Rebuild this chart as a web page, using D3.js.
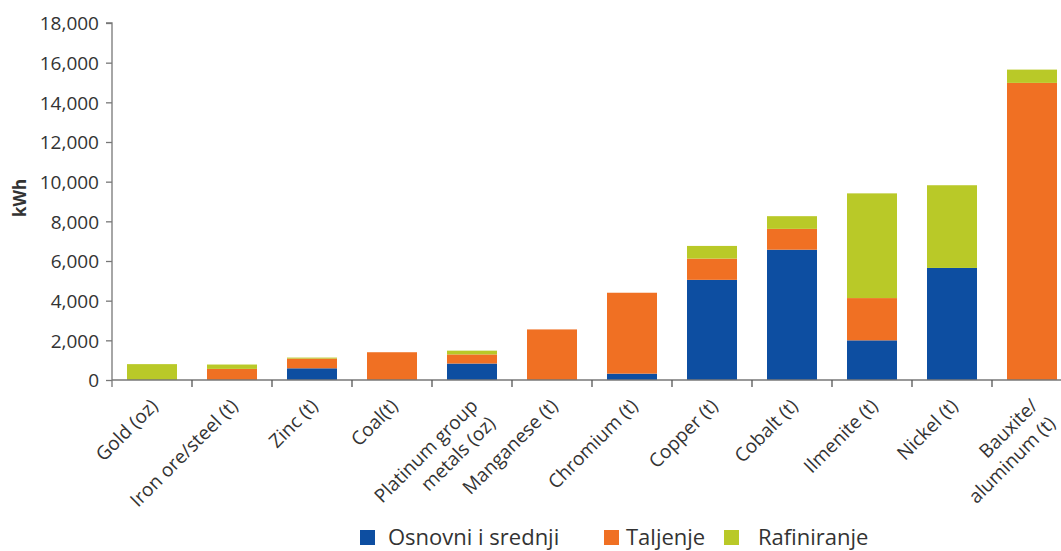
<!DOCTYPE html>
<html>
<head>
<meta charset="utf-8">
<script src="https://cdn.jsdelivr.net/npm/d3@7"></script>
<style>
  html, body { margin: 0; padding: 0; background: #fff; }
  svg { display: block; }
  text { font-family: "Open Sans", "Noto Sans", sans-serif; fill: #333; }
</style>
</head>
<body>
<svg id="chart" width="1061" height="551"></svg>
<script>
const categories = ["Gold (oz)", "Iron ore/steel (t)", "Zinc (t)", "Coal(t)", "Platinum group\nmetals (oz)", "Manganese (t)", "Chromium (t)", "Copper (t)", "Cobalt (t)", "Ilmenite (t)", "Nickel (t)", "Bauxite/\naluminum (t)"];
const osnovni     = [0,   0,   590, 0,    830, 0,    320,  5050, 6570, 2000, 5650, 0];
const taljenje    = [0,   560, 490, 1400, 460, 2550, 4080, 1070, 1050, 2130, 0,    14980];
const rafiniranje = [800, 220, 50,  0,    190, 0,    0,    640,  640,  5280, 4170, 670];
const seriesNames = ["Osnovni i srednji", "Taljenje", "Rafiniranje"];
const seriesColors = ["#0d4ea1", "#f07023", "#b9c928"];
const yTicks = [0, 2000, 4000, 6000, 8000, 10000, 12000, 14000, 16000, 18000];
const yLabel = "kWh";

const svg = d3.select("#chart");
const mLeft = 112, mRight = 1072, mTop = 23, mBottom = 380;

const x = d3.scaleBand().domain(categories).range([mLeft, mRight])
  .paddingInner(0.375).paddingOuter(0.1875);
const y = d3.scaleLinear().domain([0, 18000]).range([mBottom, mTop]);

const rows = categories.map((c, i) => ({cat: c, s0: osnovni[i], s1: taljenje[i], s2: rafiniranje[i]}));
const stack = d3.stack().keys(["s0", "s1", "s2"])(rows);

svg.append("g").selectAll("g").data(stack).join("g")
  .attr("fill", (d, i) => seriesColors[i])
  .selectAll("rect").data(d => d).join("rect")
  .attr("x", d => x(d.data.cat))
  .attr("width", x.bandwidth())
  .attr("y", d => y(d[1]))
  .attr("height", d => Math.max(0, y(d[0]) - y(d[1])));

// Y axis
const yAxis = d3.axisLeft(y).tickValues(yTicks).tickFormat(d3.format(",")).tickSize(6).tickPadding(7);
const gy = svg.append("g").attr("transform", `translate(${mLeft},0)`).call(yAxis);
gy.select(".domain").attr("stroke", "#777").attr("stroke-width", 1.3).attr("d", `M-6,${mTop}H0V${mBottom + 7}`);
gy.selectAll(".tick line").attr("stroke", "#777").attr("stroke-width", 1.3);
gy.selectAll(".tick text").style("font-size", "19px").attr("fill", "#333").attr("dy", "0.36em");

// X axis line
const step = x.step();
svg.append("line").attr("x1", mLeft).attr("x2", 1061).attr("y1", mBottom).attr("y2", mBottom)
  .attr("stroke", "#777").attr("stroke-width", 1.3);
// boundary ticks
const bounds = categories.map(c => x(c) - (step - x.bandwidth()) / 2).slice(1);
svg.append("g").selectAll("line").data(bounds).join("line")
  .attr("x1", d => d).attr("x2", d => d).attr("y1", mBottom).attr("y2", mBottom + 7)
  .attr("stroke", "#555").attr("stroke-width", 1.3);

// X labels
const lab = svg.append("g").selectAll("text").data(categories).join("text")
  .attr("transform", d => `translate(${x(d) + x.bandwidth() / 2 - 3},${mBottom + 17}) rotate(-45)`)
  .attr("text-anchor", "end")
  .style("font-size", "19px");
lab.each(function(d) {
  const lines = d.split("\n");
  const t = d3.select(this);
  lines.forEach((ln, i) => {
    t.append("tspan").attr("x", 0).attr("y", 0)
      .attr("dy", (0.75 + i * 1.3) + "em").text(ln);
  });
});

// Y label
svg.append("text").attr("transform", `translate(26,198) rotate(-90)`)
  .attr("text-anchor", "middle").style("font-size", "17px").style("font-weight", "bold")
  .attr("fill", "#222").text(yLabel);

// Legend
const legX = [360, 604, 724];
const legTX = [388, 626, 758];
const lg = svg.append("g");
seriesNames.forEach((n, i) => {
  lg.append("rect").attr("x", legX[i]).attr("y", 530).attr("width", 15).attr("height", 15).attr("fill", seriesColors[i]);
  lg.append("text").attr("x", legTX[i]).attr("y", 545).style("font-size", "22px").attr("fill", "#222").text(n);
});
</script>
</body>
</html>
